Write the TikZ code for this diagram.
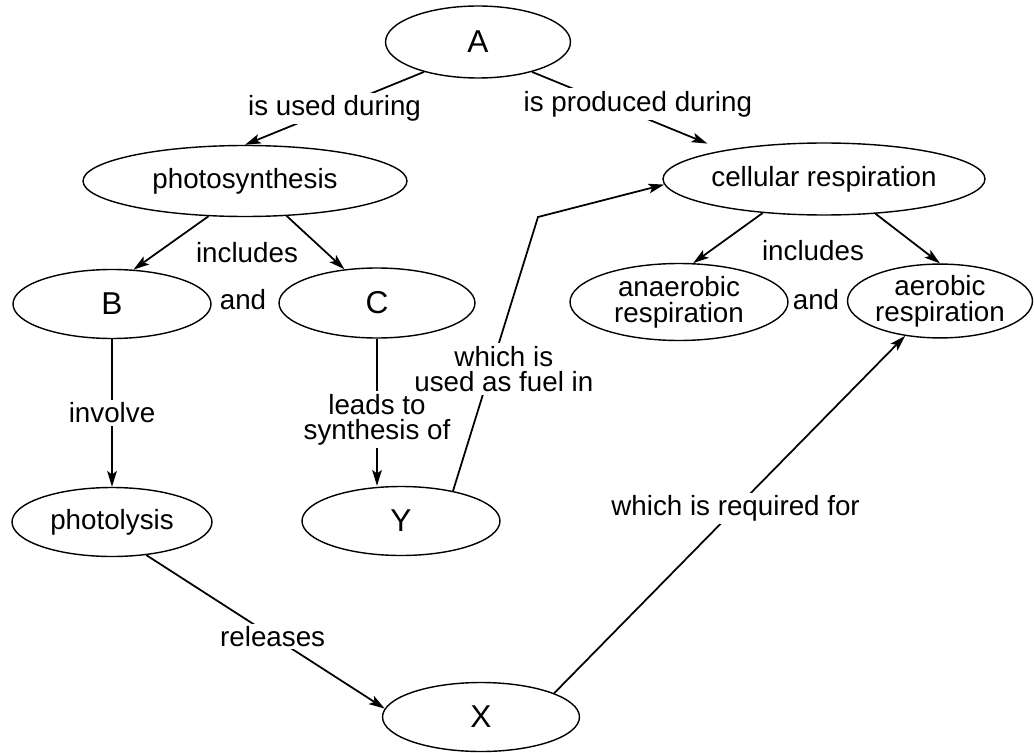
\documentclass[tikz,border=0pt]{standalone}
\usepackage{fontspec}
\setmainfont{Liberation Sans}
\usetikzlibrary{shapes.geometric}
\usetikzlibrary{arrows.meta}

\begin{document}
\begin{tikzpicture}[x=0.02cm, y=-0.02cm,
concept/.style={ellipse, draw, line width=0.8pt, inner sep=0pt, align=center, font=\fontsize{15.8}{15}\selectfont},
letter/.style={concept, font=\fontsize{18}{18}\selectfont},
link/.style={line width=1pt, -{Stealth[length=9pt,width=5.5pt,inset=2pt]}},
lbl/.style={fill=white, inner sep=1.5pt, align=center, font=\fontsize{15.8}{14.5}\selectfont}]
\useasboundingbox (0,0) rectangle (1034,753);
\node[letter, minimum width=3.7cm, minimum height=1.44cm] (A) at (478,42) {A};
\node[concept, minimum width=6.48cm, minimum height=1.42cm] (photosynthesis) at (245,181) {photosynthesis};
\node[letter, minimum width=3.96cm, minimum height=1.38cm] (B) at (112,304) {B};
\node[letter, minimum width=3.92cm, minimum height=1.4cm] (C) at (377,303) {C};
\node[concept, minimum width=6.44cm, minimum height=1.44cm] (cellular) at (824,179) {cellular respiration};
\node[concept, minimum width=4.36cm, minimum height=1.54cm] (anaerobic) at (679,302) {anaerobic\\respiration};
\node[concept, minimum width=3.7cm, minimum height=1.38cm] (aerobic) at (940,301) {aerobic\\respiration};
\node[concept, minimum width=4.0cm, minimum height=1.38cm] (photolysis) at (112,522) {photolysis};
\node[letter, minimum width=3.96cm, minimum height=1.38cm] (Y) at (401,521) {Y};
\node[letter, minimum width=3.94cm, minimum height=1.38cm] (X) at (481,717) {X};
\node[lbl] (inclL) at (247,253) {includes};
\node[lbl] (andL) at (243,300) {and};
\node[lbl] (inclR) at (813,251) {includes};
\node[lbl] (andR) at (816,300) {and};
\coordinate (bend) at (538,217);
\draw[link] (A.209) -- node[lbl]{is used during} (photosynthesis.north);
\draw[link, shorten >=10pt] (A.331) -- node[lbl, xshift=0.2cm, yshift=0.14cm]{is produced during} (cellular.164);
\draw[link] (photosynthesis.224) -- (B.58);
\draw[link] (photosynthesis.320) -- (C.134);
\draw[link] (cellular.209) -- (anaerobic.70);
\draw[link] (cellular.326) -- (aerobic.north);
\draw[link] (B) -- node[lbl]{involve} (photolysis);
\draw[link] (C.south) -- node[lbl, pos=0.55]{leads to\\synthesis of} (C.south |- Y.north);
\draw[link] (Y.30) -- node[lbl, pos=0.445, xshift=0.26cm]{which is\\used as fuel in} (bend) -- (cellular.182);
\draw[link] (X.18) -- node[lbl, pos=0.517]{which is required for} (aerobic.225);
\draw[link] (photolysis.316) -- node[lbl, pos=0.53]{releases} (X.175);
\end{tikzpicture}
\end{document}
